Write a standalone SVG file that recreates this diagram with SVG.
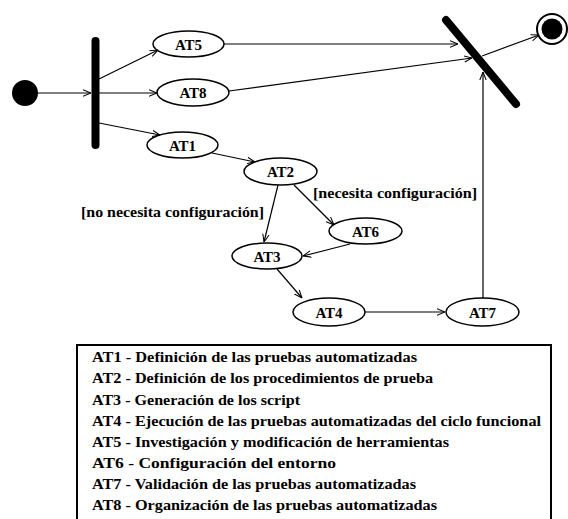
<svg xmlns="http://www.w3.org/2000/svg" width="568" height="519" viewBox="0 0 568 519">
<defs>
<style>
.n ellipse{fill:#fff;stroke:#000;stroke-width:1.5}
.n text,.lbl{font-family:"Liberation Serif","Times New Roman","DejaVu Serif",serif;font-weight:bold;font-size:15px;fill:#000}
.lbl{font-size:14px}
.n text{text-anchor:middle}
.e line,.e path{stroke:#000;stroke-width:1.2;fill:none;marker-end:url(#arr)}
.bar{stroke:#000;stroke-width:8;stroke-linecap:round}
.leg{font-family:"Liberation Serif","Times New Roman","DejaVu Serif",serif;font-weight:bold;font-size:14px;fill:#000}
</style>
<marker id="arr" viewBox="0 0 10 10" refX="10" refY="5" markerWidth="8" markerHeight="8" markerUnits="userSpaceOnUse" orient="auto">
<path d="M0,1 L10,5 L0,9" fill="none" stroke="#000" stroke-width="1.3"/>
</marker>
</defs>
<rect width="568" height="519" fill="#fff"/>

<g id="initial"><circle cx="25" cy="93" r="13" fill="#000"/></g>
<g id="fork"><line class="bar" x1="95.5" y1="41" x2="95.5" y2="145"/></g>
<g id="join"><line class="bar" x1="446" y1="20" x2="516" y2="104"/></g>
<g id="final"><circle cx="552" cy="29" r="15" fill="#fff" stroke="#000" stroke-width="2"/><circle cx="552" cy="29" r="10.5" fill="#000"/></g>

<g id="AT5" class="n"><ellipse cx="188.5" cy="44" rx="35.5" ry="13"/><text x="188.5" y="49.5">AT5</text></g>
<g id="AT8" class="n"><ellipse cx="193" cy="92.5" rx="36" ry="13.5"/><text x="193" y="98">AT8</text></g>
<g id="AT1" class="n"><ellipse cx="182.5" cy="145" rx="35.5" ry="13"/><text x="182.5" y="150.5">AT1</text></g>
<g id="AT2" class="n"><ellipse cx="280.5" cy="171.5" rx="36.5" ry="13.5"/><text x="280.5" y="177">AT2</text></g>
<g id="AT6" class="n"><ellipse cx="365.5" cy="231" rx="36.5" ry="13"/><text x="365.5" y="236.5">AT6</text></g>
<g id="AT3" class="n"><ellipse cx="267" cy="256" rx="35" ry="13"/><text x="267" y="261.5">AT3</text></g>
<g id="AT4" class="n"><ellipse cx="329" cy="312" rx="36" ry="14"/><text x="329" y="317.5">AT4</text></g>
<g id="AT7" class="n"><ellipse cx="482.5" cy="312" rx="36.5" ry="14"/><text x="482.5" y="317.5">AT7</text></g>

<g id="connectors" class="e">
<line x1="38" y1="93" x2="91" y2="93"/>
<line x1="99" y1="79" x2="158" y2="50"/>
<line x1="99" y1="93" x2="157" y2="93"/>
<line x1="99" y1="123" x2="160" y2="135"/>
<line x1="224" y1="44" x2="458" y2="44"/>
<line x1="229" y1="91" x2="472" y2="58"/>
<line x1="482" y1="56" x2="539" y2="35"/>
<line x1="212" y1="153" x2="255" y2="162"/>
<line x1="278" y1="185" x2="264" y2="242"/>
<line x1="294" y1="185" x2="334" y2="225"/>
<line x1="350" y1="244" x2="303" y2="256"/>
<line x1="277" y1="269" x2="302" y2="298"/>
<line x1="365" y1="312" x2="445" y2="312"/>
<line x1="483" y1="298" x2="483" y2="72"/>
</g>
<g id="guards">
<text class="lbl" x="81" y="217" textLength="183" lengthAdjust="spacingAndGlyphs">[no necesita configuración]</text>
<text class="lbl" x="313" y="198" textLength="164" lengthAdjust="spacingAndGlyphs">[necesita configuración]</text>
</g>

<g id="legend">
<rect x="77" y="345" width="474" height="190" fill="#fff" stroke="#000" stroke-width="2"/>
<text class="leg" x="92" y="362" textLength="325" lengthAdjust="spacingAndGlyphs">AT1 - Definición de las  pruebas automatizadas</text>
<text class="leg" x="92" y="383" textLength="341" lengthAdjust="spacingAndGlyphs">AT2 - Definición de los procedimientos de prueba</text>
<text class="leg" x="92" y="404.5" textLength="208" lengthAdjust="spacingAndGlyphs">AT3 - Generación de los script</text>
<text class="leg" x="92" y="425.5" textLength="449" lengthAdjust="spacingAndGlyphs">AT4 - Ejecución de las pruebas automatizadas del ciclo funcional</text>
<text class="leg" x="92" y="446.5" textLength="357" lengthAdjust="spacingAndGlyphs">AT5 - Investigación y modificación de herramientas</text>
<text class="leg" x="92" y="467.5" textLength="244" lengthAdjust="spacingAndGlyphs">AT6 - Configuración del entorno</text>
<text class="leg" x="92" y="488.5" textLength="324" lengthAdjust="spacingAndGlyphs">AT7 - Validación de las pruebas automatizadas</text>
<text class="leg" x="92" y="509.5" textLength="345" lengthAdjust="spacingAndGlyphs">AT8 - Organización de las pruebas automatizadas</text>
</g>
</svg>
